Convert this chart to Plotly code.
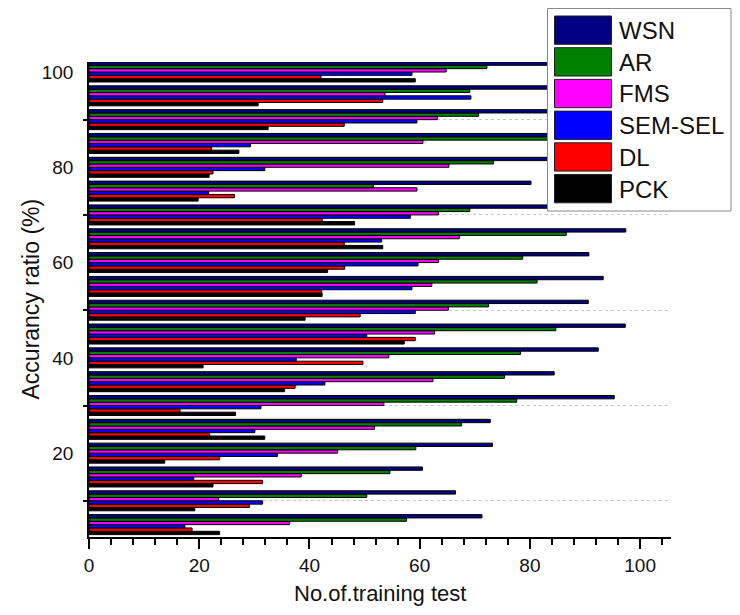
import plotly.graph_objects as go

# ---- data ----
accuracy = [5, 10, 15, 20, 25, 30, 35, 40, 45, 50, 55, 60, 65, 70, 75, 80, 85, 90, 95, 100]

wsn = [71.3, 66.5, 60.5, 73.2, 72.8, 95.3, 84.4, 92.4, 97.3, 90.6,
       93.3, 90.7, 97.4, 97.0, 80.2, 90.0, 95.0, 92.0, 94.0, 96.0]
ar = [57.6, 50.4, 54.6, 59.3, 67.6, 77.6, 75.4, 78.3, 84.7, 72.5,
      81.3, 78.7, 86.6, 69.1, 51.6, 73.4, 88.0, 70.7, 69.1, 72.2]
fms = [36.4, 23.5, 38.5, 45.1, 51.8, 53.5, 62.4, 54.4, 62.7, 65.2,
       62.2, 63.4, 67.2, 63.4, 59.5, 65.3, 60.6, 63.2, 53.7, 64.8]
sem_sel = [17.4, 31.5, 19.0, 34.2, 30.1, 31.2, 42.8, 37.6, 50.4, 59.2,
           58.6, 59.7, 53.1, 58.3, 21.7, 31.9, 29.3, 59.5, 69.3, 58.6]
dl = [18.7, 29.1, 31.5, 23.7, 21.9, 16.5, 37.4, 49.7, 59.2, 49.2,
      42.2, 46.4, 46.3, 42.3, 26.4, 22.5, 22.2, 46.3, 53.3, 42.1]
pck = [23.7, 19.2, 22.5, 13.75, 31.9, 26.6, 35.5, 20.7, 57.2, 39.2,
       42.3, 43.3, 53.3, 48.2, 19.8, 21.8, 27.2, 32.5, 30.7, 59.2]

series_names = ["WSN", "AR", "FMS", "SEM-SEL", "DL", "PCK"]
series_values = [wsn, ar, fms, sem_sel, dl, pck]
series_colors = ["#000080", "#008000", "#ff00ff", "#0000ff", "#ff0000", "#000000"]

x_ticks = [0, 20, 40, 60, 80, 100]
y_ticks = [20, 40, 60, 80, 100]

FONT = "Arial, Liberation Sans, sans-serif"

fig = go.Figure()
# Plotly puts the first trace at the bottom of each horizontal group,
# so add in reverse to get WSN on top.
for name, vals, col in reversed(list(zip(series_names, series_values, series_colors))):
    fig.add_trace(go.Bar(
        y=accuracy, x=vals, name=name, orientation="h",
        marker=dict(color=col, line=dict(color="#000000", width=1)),
    ))

# ---- geometry (page has an 8px body margin) ----
OFF = 8
W, H = 724, 599
PL, PR, PT, PB = 89, 671, 62, 537       # plot area in window pixels
ml, mr, mt, mb = PL - OFF, W - (PR - OFF), PT - OFF, H - (PB - OFF)
pw, ph = PR - PL, PB - PT


def px_x(px):
    return (px - PL) / pw


def px_y(py):
    return (PB - py) / ph


shapes = [dict(type="rect", xref="paper", yref="paper", layer="above",
               x0=px_x(547.5), x1=px_x(731), y0=px_y(211), y1=px_y(8.5),
               fillcolor="white", line=dict(color="#8a8a8a", width=1))]
annotations = []
for i, (name, col) in enumerate(zip(series_names, series_colors)):
    top = 16 + i * 31.7
    shapes.append(dict(type="rect", xref="paper", yref="paper", layer="above",
                       x0=px_x(554.5), x1=px_x(611.5), y0=px_y(top + 28.3), y1=px_y(top),
                       fillcolor=col, line=dict(color="#202020", width=1)))
    annotations.append(dict(xref="paper", yref="paper", x=px_x(617), y=px_y(top + 14.5),
                            text=name, showarrow=False, xanchor="left", yanchor="middle",
                            font=dict(family=FONT, size=24, color="#111111")))

annotations.append(dict(xref="paper", yref="paper", x=0.5, y=px_y(593),
                        text="No.of.training test", showarrow=False,
                        xanchor="center", yanchor="middle",
                        font=dict(family=FONT, size=22, color="#111111")))
annotations.append(dict(xref="paper", yref="paper", x=px_x(30), y=0.5,
                        text="Accurancy ratio (%)", showarrow=False, textangle=-90,
                        xanchor="center", yanchor="middle",
                        font=dict(family=FONT, size=23, color="#111111")))

fig.update_layout(
    width=W, height=H,
    margin=dict(l=ml, r=mr, t=mt, b=mb, autoexpand=False),
    paper_bgcolor="white", plot_bgcolor="white",
    barmode="group", bargap=0.16, bargroupgap=0,
    showlegend=False,
    shapes=shapes, annotations=annotations,
    font=dict(family=FONT, color="#111111"),
)

fig.update_xaxes(
    range=[0, 105.6], tickvals=x_ticks, ticktext=[str(v) for v in x_ticks],
    showline=True, linecolor="black", linewidth=1.5,
    ticks="outside", ticklen=10, tickwidth=1.5, tickcolor="black",
    minor=dict(ticks="outside", ticklen=6, tickwidth=1.5, tickcolor="black", dtick=4, tick0=0),
    showgrid=False, zeroline=False,
    tickfont=dict(family=FONT, size=19, color="#111111"),
    automargin=False,
)

fig.update_yaxes(
    range=[2.4, 102.1], tickvals=y_ticks, ticktext=[str(v) for v in y_ticks],
    showline=True, linecolor="black", linewidth=1.5,
    ticks="", ticklabelstandoff=10,
    minor=dict(ticks="outside", ticklen=4, tickwidth=1.5, tickcolor="black",
               dtick=20, tick0=10, showgrid=True, griddash="dot",
               gridcolor="#c8c8c8", gridwidth=1),
    showgrid=False, zeroline=False,
    tickfont=dict(family=FONT, size=19, color="#111111"),
    automargin=False,
)

fig.write_html("out.html")
